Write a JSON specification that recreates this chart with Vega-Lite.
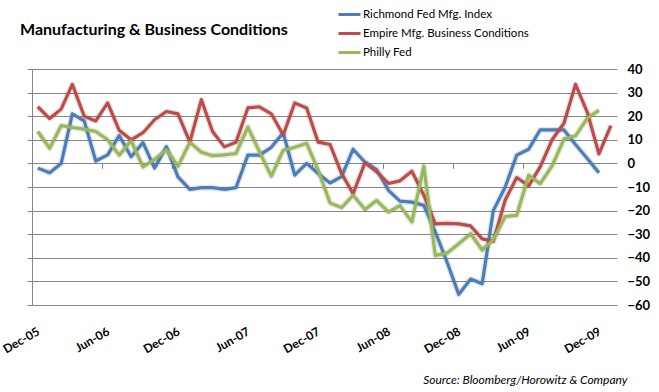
{
  "$schema": "https://vega.github.io/schema/vega-lite/v6.json",
  "width": 585,
  "height": 236,
  "autosize": "none",
  "padding": {"left": 32, "top": 69, "right": 42, "bottom": 87},
  "background": "white",
  "title": {
    "text": "Manufacturing & Business Conditions",
    "anchor": "start",
    "frame": "group",
    "dx": -12,
    "offset": -49,
    "baseline": "alphabetic",
    "font": "Lato",
    "fontSize": 16,
    "fontWeight": "bold",
    "color": "#000000"
  },
  "data": {
    "values": [
      {"month": "2005-12-16", "Richmond": -2, "Empire": 24, "Philly": 13.5},
      {"month": "2006-01-16", "Richmond": -4, "Empire": 19, "Philly": 6.4},
      {"month": "2006-02-15", "Richmond": 0, "Empire": 23, "Philly": 16},
      {"month": "2006-03-16", "Richmond": 21, "Empire": 33.5, "Philly": 15.2},
      {"month": "2006-04-16", "Richmond": 18, "Empire": 20, "Philly": 14.5},
      {"month": "2006-05-16", "Richmond": 1, "Empire": 18, "Philly": 13.5},
      {"month": "2006-06-16", "Richmond": 3.6, "Empire": 25.6, "Philly": 10},
      {"month": "2006-07-16", "Richmond": 11.8, "Empire": 14, "Philly": 3.5},
      {"month": "2006-08-16", "Richmond": 2.8, "Empire": 10, "Philly": 9.6},
      {"month": "2006-09-16", "Richmond": 8.8, "Empire": 13, "Philly": -1.5},
      {"month": "2006-10-16", "Richmond": -2, "Empire": 18.5, "Philly": 1.7},
      {"month": "2006-11-16", "Richmond": 7.1, "Empire": 22, "Philly": 5.8},
      {"month": "2006-12-16", "Richmond": -5.7, "Empire": 21, "Philly": -1.2},
      {"month": "2007-01-16", "Richmond": -11, "Empire": 9, "Philly": 8.9},
      {"month": "2007-02-15", "Richmond": -10.3, "Empire": 27, "Philly": 4.7},
      {"month": "2007-03-16", "Richmond": -10.3, "Empire": 13.5, "Philly": 3.3},
      {"month": "2007-04-16", "Richmond": -11, "Empire": 7, "Philly": 3.6},
      {"month": "2007-05-16", "Richmond": -10.3, "Empire": 9, "Philly": 4.2},
      {"month": "2007-06-16", "Richmond": 3.5, "Empire": 23.5, "Philly": 15.4},
      {"month": "2007-07-16", "Richmond": 3.5, "Empire": 24, "Philly": 5},
      {"month": "2007-08-16", "Richmond": 6.8, "Empire": 21, "Philly": -5.4},
      {"month": "2007-09-16", "Richmond": 13, "Empire": 12, "Philly": 5.6},
      {"month": "2007-10-16", "Richmond": -5, "Empire": 25.6, "Philly": 6.8},
      {"month": "2007-11-16", "Richmond": 0, "Empire": 23.5, "Philly": 8.5},
      {"month": "2007-12-16", "Richmond": -4.3, "Empire": 9, "Philly": -2.9},
      {"month": "2008-01-16", "Richmond": -8.3, "Empire": 8, "Philly": -16.8},
      {"month": "2008-02-15", "Richmond": -5.6, "Empire": -4.3, "Philly": -18.7},
      {"month": "2008-03-16", "Richmond": 6, "Empire": -12.8, "Philly": -13.5},
      {"month": "2008-04-16", "Richmond": 0.5, "Empire": 0.3, "Philly": -19.5},
      {"month": "2008-05-16", "Richmond": -2.6, "Empire": -3.5, "Philly": -15.7},
      {"month": "2008-06-16", "Richmond": -11.4, "Empire": -8.5, "Philly": -20.6},
      {"month": "2008-07-16", "Richmond": -16, "Empire": -7.4, "Philly": -17.9},
      {"month": "2008-08-16", "Richmond": -16.4, "Empire": -3.3, "Philly": -24.8},
      {"month": "2008-09-16", "Richmond": -17.8, "Empire": -13.5, "Philly": -1.2},
      {"month": "2008-10-16", "Richmond": -29, "Empire": -25.6, "Philly": -39},
      {"month": "2008-11-16", "Richmond": -42, "Empire": -25.4, "Philly": -38},
      {"month": "2008-12-16", "Richmond": -55.5, "Empire": -25.6, "Philly": -34},
      {"month": "2009-01-16", "Richmond": -49, "Empire": -26.5, "Philly": -29.8},
      {"month": "2009-02-15", "Richmond": -51, "Empire": -32, "Philly": -36.7},
      {"month": "2009-03-16", "Richmond": -20, "Empire": -33, "Philly": -32.3},
      {"month": "2009-04-16", "Richmond": -10, "Empire": -15.5, "Philly": -22.5},
      {"month": "2009-05-16", "Richmond": 3.5, "Empire": -6, "Philly": -22},
      {"month": "2009-06-16", "Richmond": 6, "Empire": -9.5, "Philly": -5},
      {"month": "2009-07-16", "Richmond": 14.2, "Empire": -1.5, "Philly": -8.6},
      {"month": "2009-08-16", "Richmond": 14.2, "Empire": 10, "Philly": -1},
      {"month": "2009-09-16", "Richmond": 14.2, "Empire": 17, "Philly": 10.3},
      {"month": "2009-10-16", "Richmond": 8, "Empire": 33.5, "Philly": 11.7},
      {"month": "2009-11-16", "Richmond": 2, "Empire": 21.5, "Philly": 19.2},
      {"month": "2009-12-16", "Richmond": -4, "Empire": 4, "Philly": 22.5},
      {"month": "2010-01-16", "Richmond": null, "Empire": 16, "Philly": null}
    ]
  },
  "transform": [
    {"fold": ["Richmond", "Empire", "Philly"], "as": ["series", "value"]}
  ],
  "layer": [
    {
      "mark": {"type": "line", "strokeWidth": 6, "color": "#000000", "opacity": 0.1, "strokeJoin": "round"},
      "encoding": {
        "x": {
          "field": "month", "type": "temporal",
          "scale": {"type": "utc", "domain": ["2005-12-01", "2010-02-01"]},
          "axis": {
            "orient": "bottom", "offset": -141.6, "labels": false, "ticks": true, "tickSize": 5, "tickColor": "#868686", "tickWidth": 1,
            "domain": false, "grid": false, "title": null,
            "values": ["2005-12-01", "2006-06-01", "2006-12-01", "2007-06-01", "2007-12-01", "2008-06-01", "2008-12-01", "2009-06-01", "2009-12-01"]
          }
        },
        "y": {
          "field": "value", "type": "quantitative",
          "scale": {"domain": [-60, 40], "nice": false, "zero": false},
          "axis": {
            "orient": "left", "labels": false, "ticks": true, "tickSize": 5, "tickColor": "#868686",
            "domain": true, "domainColor": "#868686", "grid": false, "title": null,
            "values": [-60, -50, -40, -30, -20, -10, 0, 10, 20, 30, 40]
          }
        },
        "detail": {"field": "series"}
      }
    },
    {
      "mark": {"type": "line", "strokeWidth": 3.2, "strokeJoin": "round"},
      "encoding": {
        "x": {
          "field": "month", "type": "temporal",
          "axis": {
            "orient": "bottom", "format": "%b-%y", "labelAngle": -30, "labelAlign": "right", "labelBaseline": "middle",
            "labelPadding": 25, "labelOffset": 6, "labelFlush": false, "labelOverlap": false,
            "labelFont": "Lato", "labelFontWeight": "bold", "labelFontSize": 12, "labelColor": "#000000",
            "ticks": false, "domain": false, "grid": false,
            "values": ["2005-12-01", "2006-06-01", "2006-12-01", "2007-06-01", "2007-12-01", "2008-06-01", "2008-12-01", "2009-06-01", "2009-12-01"],
            "title": "Source: Bloomberg/Horowitz & Company",
            "titleFont": "Lato", "titleFontStyle": "italic", "titleFontWeight": "normal", "titleFontSize": 12,
            "titleColor": "#000000", "titleAnchor": "end", "titleAlign": "right", "titleBaseline": "alphabetic",
            "titleX": 595, "titleY": 78
          }
        },
        "y": {
          "field": "value", "type": "quantitative",
          "axis": {
            "orient": "right", "values": [-60, -50, -40, -30, -20, -10, 0, 10, 20, 30, 40],
            "labelAlign": "left", "labelPadding": 10, "labelFont": "Lato", "labelFontWeight": "bold", "labelFontSize": 13,
            "labelColor": "#000000", "ticks": false, "domain": false, "grid": true, "gridColor": "#868686", "gridWidth": 1,
            "title": null
          }
        },
        "color": {
          "field": "series", "type": "nominal",
          "scale": {
            "domain": ["Richmond", "Empire", "Philly"],
            "range": ["#4A7EBB", "#BE4B48", "#98B954"]
          },
          "legend": {
            "orient": "none", "legendX": 305, "legendY": -67, "title": null,
            "symbolType": "stroke", "symbolSize": 484, "symbolStrokeWidth": 3,
            "labelExpr": "datum.label == 'Richmond' ? 'Richmond Fed Mfg. Index' : datum.label == 'Empire' ? 'Empire Mfg. Business Conditions' : 'Philly Fed'",
            "labelFont": "Lato", "labelFontSize": 11.5, "labelColor": "#000000", "labelOffset": 1, "rowPadding": -3, "labelLimit": 300
          }
        }
      }
    }
  ],
  "resolve": {"axis": {"x": "independent", "y": "independent"}},
  "config": {"view": {"stroke": null}}
}
